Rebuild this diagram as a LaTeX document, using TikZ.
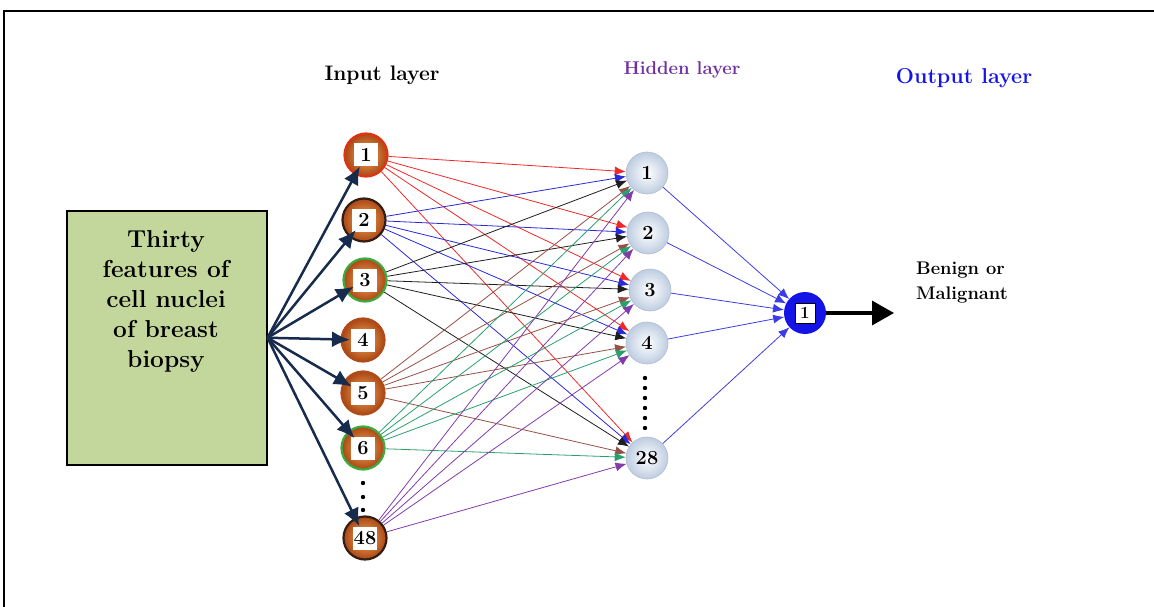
\documentclass[tikz,border=0pt]{standalone}
\usepackage{fontspec}
\usetikzlibrary{arrows.meta,shadings}
\definecolor{navy}{RGB}{23,43,77}
\definecolor{boxgreen}{RGB}{195,214,155}
\definecolor{ballin}{RGB}{245,170,90}
\definecolor{ballout}{RGB}{170,70,20}
\definecolor{ringred}{RGB}{225,50,20}
\definecolor{ringdark}{RGB}{50,30,20}
\definecolor{ringgreen}{RGB}{60,170,60}
\definecolor{ringbrown}{RGB}{175,75,25}
\definecolor{hcol}{RGB}{190,205,225}
\definecolor{outblue}{RGB}{20,20,230}
\definecolor{hidpurple}{RGB}{112,48,160}
\definecolor{cred}{RGB}{240,40,40}
\definecolor{cblue}{RGB}{40,40,220}
\definecolor{cblack}{RGB}{30,30,30}
\definecolor{cbrown}{RGB}{150,80,70}
\definecolor{cgreen}{RGB}{40,160,110}
\definecolor{cpurple}{RGB}{130,60,170}
\definecolor{hout}{RGB}{60,60,230}
\tikzset{
  inball/.style={circle, minimum size=43pt, inner sep=0pt, draw=#1, line width=2.2pt,
    inner color=ballin, outer color=ballout},
  numbox/.style={fill=white, inner sep=1pt, minimum width=24pt, minimum height=23pt,
    font=\bfseries\fontsize{20}{20}\selectfont},
  hball/.style={circle, minimum size=42pt, inner sep=0pt, inner color=white, outer color=hcol,
    draw=hcol!80!gray, line width=0.6pt, font=\bfseries\fontsize{20}{20}\selectfont},
  conn/.style={draw=#1, line width=0.8pt, -{Latex[length=11pt,width=9pt]}},
  navyarrow/.style={draw=navy, line width=2.5pt, -{Latex[length=18pt,width=16pt]}, shorten >=13pt},
  layerlabel/.style={font=\bfseries\fontsize{21}{21}\selectfont, anchor=base},
}
\begin{document}
\begin{tikzpicture}[x=1pt,y=-1pt]
\useasboundingbox (0,0) rectangle (1154,607);
\draw[line width=2.2pt] (4,607) -- (4,11) -- (1154,11);

% labels
\node[layerlabel] (lin) at (382,81) {Input layer};
\node[layerlabel, text=hidpurple, font=\bfseries\fontsize{18.5}{18.5}\selectfont] (lhid) at (682,75) {Hidden layer};
\node[layerlabel, text=outblue, font=\bfseries\fontsize{21.5}{21.5}\selectfont] (lout) at (964,84) {Output layer};

% box
\node[draw, line width=1.5pt, fill=boxgreen, minimum width=200pt, minimum height=254pt,
  anchor=north west, inner sep=0pt] (box) at (66,210) {};
\node[anchor=north, inner sep=0pt, align=center, font=\bfseries\fontsize{24.5}{30}\selectfont]
  (boxtext) at (166,230) {Thirty\\features of\\cell nuclei\\of breast\\biopsy};

% input nodes
\node[inball=ringred]   (i1)  at (366,155) {};
\node[inball=ringdark]  (i2)  at (364,220) {};
\node[inball=ringgreen] (i3)  at (365,280) {};
\node[inball=ringbrown] (i4)  at (363,340) {};
\node[inball=ringbrown] (i5)  at (363,393) {};
\node[inball=ringgreen] (i6)  at (363,448) {};
\node[inball=ringdark]  (i48) at (365,538) {};
\node[numbox] (n1) at (i1) {1};
\node[numbox] (n2) at (i2) {2};
\node[numbox] (n3) at (i3) {3};
\node[numbox] (n4) at (i4) {4};
\node[numbox] (n5) at (i5) {5};
\node[numbox] (n6) at (i6) {6};
\node[numbox, inner sep=0pt] (n48) at (i48) {48};
\foreach \yy in {483,497,510} \fill (363,\yy) circle (2.2pt);

% hidden nodes
\node[hball] (h1)  at (647,173) {1};
\node[hball] (h2)  at (648,233) {2};
\node[hball] (h3)  at (650,290) {3};
\node[hball] (h4)  at (647,343) {4};
\node[hball] (h28) at (647,458) {28};
\foreach \yy in {378,388,398,408,418,428} \fill (645,\yy) circle (2.2pt);

% output node
\node[circle, fill=outblue, minimum size=42pt, inner sep=0pt] (o1) at (805,313) {};
\node[numbox, draw=black, line width=0.6pt, minimum width=20pt, minimum height=20pt,
  font=\bfseries\fontsize{17}{17}\selectfont] (on) at (o1) {1};
\coordinate (oend) at (894,313);
\draw[line width=3.5pt, -{Triangle[length=22pt,width=24pt]}] (o1) -- (oend);
\node[anchor=base west, align=left, inner sep=0pt, font=\bfseries\fontsize{18.3}{25}\selectfont]
  (res) at (916,299) {Benign or\\Malignant};

% connections input -> hidden
\foreach \s/\c in {i1/cred, i2/cblue, i3/cblack, i5/cbrown, i6/cgreen, i48/cpurple}
  \foreach \t in {h1,h2,h3,h4,h28}
    \draw[conn=\c] (\s) -- (\t);

% hidden -> output
\foreach \t in {h1,h2,h3,h4,h28}
  \draw[conn=hout] (\t) -- (o1);

% box -> input
\foreach \t in {i1,i2,i3,i4,i5,i6,i48}
  \draw[navyarrow] (box.east) -- (\t.center);
\end{tikzpicture}
\end{document}
